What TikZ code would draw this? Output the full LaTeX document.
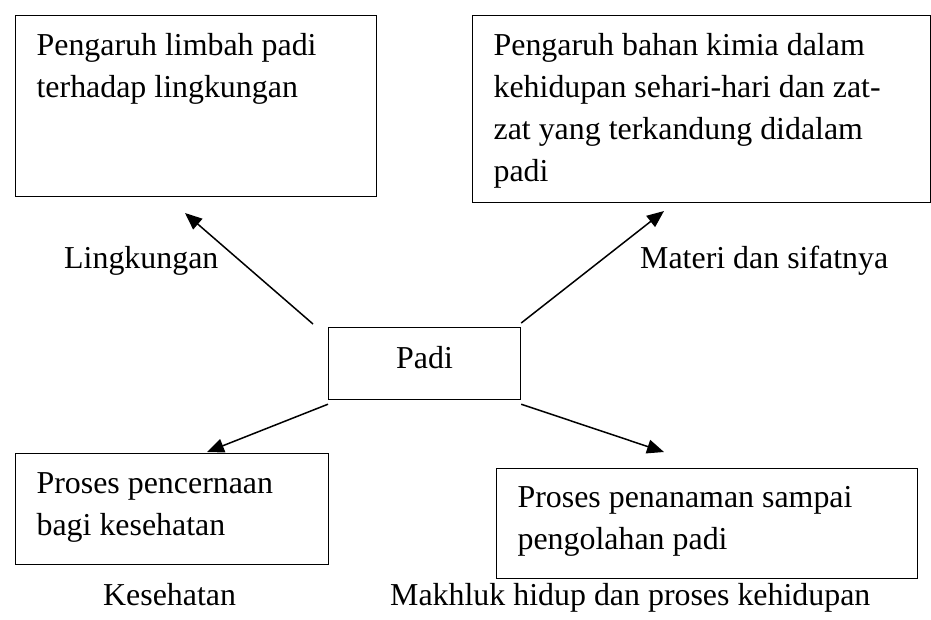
\documentclass[tikz,border=0pt]{standalone}
\usepackage{fontspec}
\setmainfont{Liberation Serif}
\usetikzlibrary{arrows.meta}

\tikzset{
    teks/.style={font=\fontsize{31.9pt}{42pt}\selectfont},
    kotak/.style={teks, draw, line width=1.2pt, inner xsep=21pt, inner ysep=0pt,
        anchor=north west, execute at begin node={\spaceskip=0pt\xspaceskip=0pt\relax}},
    tema/.style={teks, inner sep=0pt, anchor=base west},
    panah/.style={-{Triangle[length=17pt,width=14pt]}, line width=1.5pt}
}

\begin{document}
\begin{tikzpicture}[x=1pt, y=-1pt]
    \useasboundingbox (0,0) rectangle (931,619);

    % Draw the centre box
    \node[teks, draw, line width=1.2pt, inner sep=0pt, minimum width=192pt,
        text height=41pt, text depth=31pt, anchor=north west] (padi) at (328,327) {Padi};

    % Draw the four topic boxes
    \node[kotak, text width=319pt, text height=40pt, text depth=141pt] (limbah) at (15,15)
        {Pengaruh limbah padi\\terhadap lingkungan};
    \node[kotak, text width=416pt, text height=40pt, text depth=147pt] (kimia) at (472,15)
        {Pengaruh bahan kimia dalam\\kehidupan sehari-hari dan zat-\\zat yang terkandung didalam\\padi};
    \node[kotak, text width=271pt, text height=40pt, text depth=71pt] (cerna) at (15,453)
        {Proses pencernaan\\bagi kesehatan};
    \node[kotak, text width=379pt, text height=39pt, text depth=71pt] (tanam) at (496,468)
        {Proses penanaman sampai\\pengolahan padi};

    % Theme names beside the arrows
    \node[tema] (lingkungan) at (64,268) {Lingkungan};
    \node[tema] (materi) at (640,268) {Materi dan sifatnya};
    \node[tema] (kesehatan) at (103,605) {Kesehatan};
    \node[tema] (makhluk) at (390,605) {Makhluk hidup dan proses kehidupan};

    % Arrow tips stop short of the boxes
    \coordinate (ujunglimbah) at (185,213);
    \coordinate (ujungkimia) at (664,211);
    \coordinate (ujungcerna) at (207,452);
    \coordinate (ujungtanam) at (664,452);

    \draw[panah] ([xshift=-15pt,yshift=3pt]padi.north west) -- (ujunglimbah);
    \draw[panah] ([yshift=4pt]padi.north east) -- (ujungkimia);
    \draw[panah] ([yshift=-4pt]padi.south west) -- (ujungcerna);
    \draw[panah] ([yshift=-4pt]padi.south east) -- (ujungtanam);
\end{tikzpicture}
\end{document}
